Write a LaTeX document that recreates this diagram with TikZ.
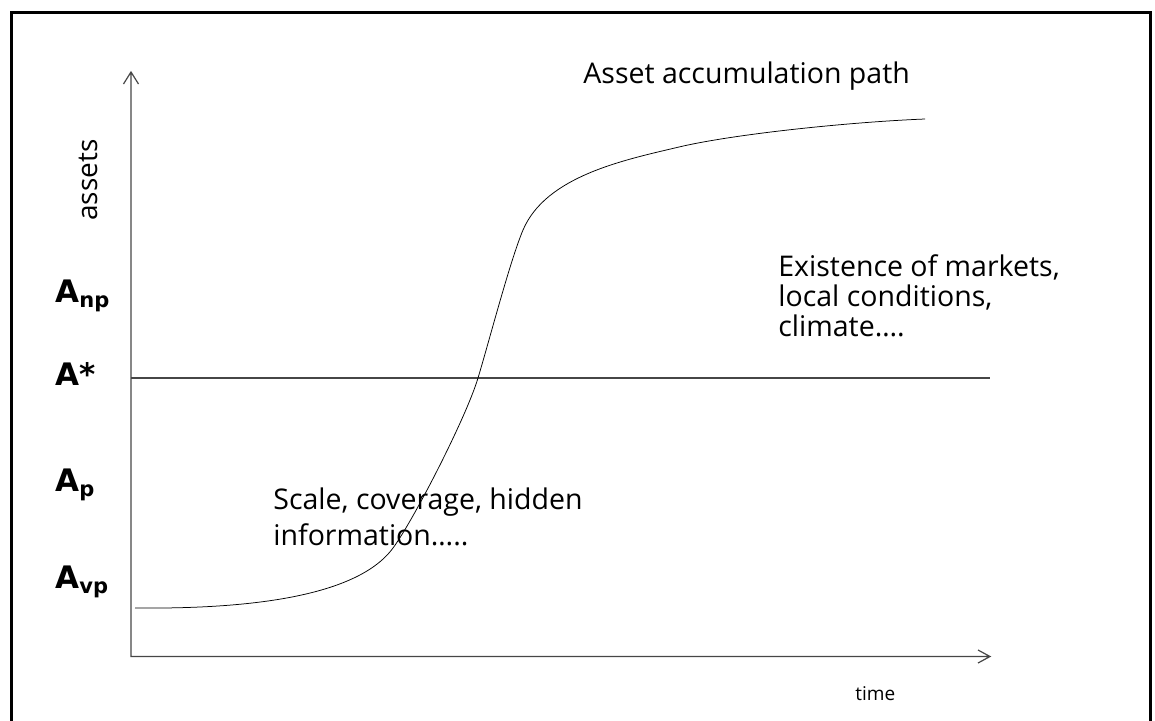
\documentclass[tikz,border=0pt]{standalone}
\usepackage{fontspec}
\setmainfont{Open Sans}
\newfontfamily\levelfont{DejaVu Sans}
\tikzset{every picture/.style={line width=0.75pt}}
\tikzset{note/.style={font=\fontsize{28.5}{#1}\selectfont, align=left, inner sep=0pt, anchor=base west},
         level/.style={font=\levelfont\bfseries\fontsize{31}{31}\selectfont, inner sep=0pt, anchor=base west}}
\newcommand{\lvsub}[1]{\raisebox{-5pt}{\fontsize{21}{21}\selectfont #1}}

\begin{document}
\begin{tikzpicture}[x=1pt,y=1pt,yscale=-1,xscale=1]
		\useasboundingbox (0,0) rectangle (1155,720);
		\clip (0,0) rectangle (1155,720);

		%Shape: Frame
		\draw [line width=3pt] (11.5,12) rectangle (1150,740);
		%Shape: Axis 2D
		\draw [color={rgb, 255:red, 70; green, 70; blue, 70 }, line width=1.2pt] (131,72) -- (131,656.5) -- (990,656.5) (123.5,84) -- (131,72) -- (138.5,84) (978,650) -- (990,656.5) -- (978,663) ;
		%Straight Lines: A* level
		\draw [color={rgb, 255:red, 70; green, 70; blue, 70 }, line width=1.2pt] (131,378) -- (990,378) ;
		%Curve Lines: accumulation path
		\draw (135,608) .. controls (235,609) and (355,600) .. (393,548) .. controls (413,521) and (466,418) .. (478,378) .. controls (490,338) and (510,261) .. (523,230) .. controls (546,176) and (624,160) .. (679,147) .. controls (734,134) and (850,122) .. (925,119) ;

		% Text Node
		\draw (583,83) node [note=33] (title) {Asset accumulation path};
		% Text Node (base = last line)
		\draw (778,336) node [note=30] (markets) {Existence of markets,\\local conditions,\\climate….};
		% Text Node (base = last line)
		\draw (273,545) node [note=36] (scale) {Scale, coverage, hidden\\information…..};
		% Text Node
		\draw (97,180) node [font=\fontsize{28}{28}\selectfont, inner sep=0pt, rotate=90, anchor=base] (assets) {assets};
		% Text Node
		\draw (855,700) node [font=\fontsize{19}{19}\selectfont, inner sep=0pt, anchor=base west] (time) {time};
		% Text Node
		\draw (55,302) node [level] (anp) {A\lvsub{np}};
		% Text Node
		\draw (55,385) node [level] (astar) {A*};
		% Text Node
		\draw (55,491) node [level] (ap) {A\lvsub{p}};
		% Text Node
		\draw (55,588) node [level] (avp) {A\lvsub{vp}};

\end{tikzpicture}
\end{document}
